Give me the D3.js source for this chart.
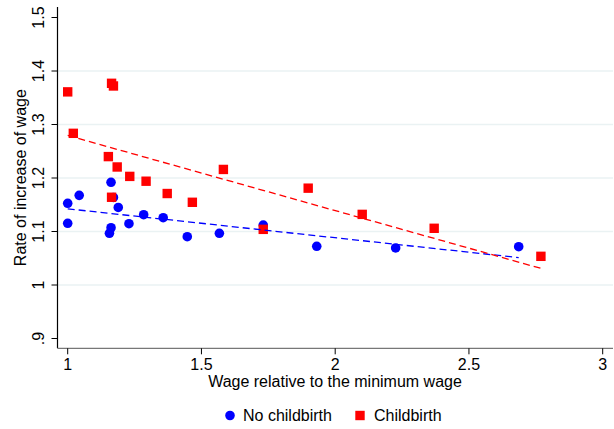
<!DOCTYPE html>
<html>
<head>
<meta charset="utf-8">
<script src="https://cdn.jsdelivr.net/npm/d3@7"></script>
<style>
  html, body { margin: 0; padding: 0; background: #fff; }
  svg { display: block; font-family: "Liberation Sans", Arial, sans-serif; }
</style>
</head>
<body>
<svg id="chart" width="614" height="429"></svg>
<script>
// Wage relative to minimum wage (x) vs. rate of increase of wage (y)
const noBirthX = [1.000, 1.000, 1.043, 1.162, 1.171, 1.189, 1.162, 1.156, 1.229, 1.284,
                  1.357, 1.447, 1.567, 1.731, 1.931, 2.226, 2.686];
const noBirthY = [1.1527, 1.1153, 1.1676, 1.192, 1.1636, 1.145, 1.107, 1.0966, 1.1146, 1.1314,
                  1.1258, 1.0903, 1.0966, 1.112, 1.0723, 1.0692, 1.0716];

const birthX = [1.000, 1.021, 1.164, 1.171, 1.152, 1.185, 1.232, 1.293, 1.372, 1.466,
                1.582, 1.164, 1.731, 1.899, 2.101, 2.370, 2.769];
const birthY = [1.361, 1.2835, 1.377, 1.372, 1.240, 1.2206, 1.203, 1.194, 1.171, 1.1546,
                1.216, 1.164, 1.104, 1.181, 1.132, 1.106, 1.0536];

const xTicks = [1, 1.5, 2, 2.5, 3];
const yTicks = [0.9, 1, 1.1, 1.2, 1.3, 1.4, 1.5];
const yTickLabels = [".9", "1", "1.1", "1.2", "1.3", "1.4", "1.5"];
const gridValues = [1, 1.1, 1.2, 1.3, 1.4];
const seriesNames = ["No childbirth", "Childbirth"];
const seriesColors = ["#0000ff", "#ff0000"];

const FS = 16;
const svg = d3.select("#chart");

const x = d3.scaleLinear().domain([1, 3]).range([67.7, 602.7]);
const y = d3.scaleLinear().domain([1, 1.5]).range([285, 17.5]);

const plotLeft = 57.5, plotRight = 613, plotTop = 7, plotBottom = 348.3;

// light horizontal gridlines
svg.append("g").selectAll("line").data(gridValues).join("line")
  .attr("x1", plotLeft).attr("x2", plotRight)
  .attr("y1", d => y(d)).attr("y2", d => y(d))
  .attr("stroke", "#eaf2f3").attr("stroke-width", 1.4);

// least-squares fit over the observed x range
function linFit(xs, ys) {
  const mx = d3.mean(xs), my = d3.mean(ys);
  let sxy = 0, sxx = 0;
  xs.forEach((v, i) => { sxy += (v - mx) * (ys[i] - my); sxx += (v - mx) * (v - mx); });
  const b = sxy / sxx, a = my - b * mx;
  const [lo, hi] = d3.extent(xs);
  return [[lo, a + b * lo], [hi, a + b * hi]];
}

const line = d3.line().x(d => x(d[0])).y(d => y(d[1]));

// markers
const blue = noBirthX.map((v, i) => [v, noBirthY[i]]);
const red = birthX.map((v, i) => [v, birthY[i]]);

svg.append("g").selectAll("circle").data(blue).join("circle")
  .attr("cx", d => x(d[0])).attr("cy", d => y(d[1])).attr("r", 4.8)
  .attr("fill", seriesColors[0]);

const sq = 9.4;
svg.append("g").selectAll("rect").data(red).join("rect")
  .attr("x", d => x(d[0]) - sq / 2).attr("y", d => y(d[1]) - sq / 2)
  .attr("width", sq).attr("height", sq)
  .attr("fill", seriesColors[1]);

// fitted lines
svg.append("path").datum(linFit(noBirthX, noBirthY)).attr("d", line)
  .attr("fill", "none").attr("stroke", seriesColors[0]).attr("stroke-width", 1.3)
  .attr("stroke-dasharray", "7,4");
svg.append("path").datum(linFit(birthX, birthY)).attr("d", line)
  .attr("fill", "none").attr("stroke", seriesColors[1]).attr("stroke-width", 1.3)
  .attr("stroke-dasharray", "7,4");

// y axis
const yAxis = svg.append("g").attr("transform", `translate(${plotLeft},0)`);
yAxis.append("line").attr("x1", 0).attr("x2", 0).attr("y1", plotTop).attr("y2", plotBottom)
  .attr("stroke", "#000").attr("stroke-width", 1.2);
yAxis.selectAll("line.tick").data(yTicks).join("line").attr("class", "tick")
  .attr("x1", -6).attr("x2", 0).attr("y1", d => y(d)).attr("y2", d => y(d))
  .attr("stroke", "#000").attr("stroke-width", 1);
yAxis.selectAll("text").data(yTicks).join("text")
  .attr("transform", d => `translate(-14,${y(d)}) rotate(-90)`)
  .attr("text-anchor", "middle").attr("font-size", FS).attr("fill", "#000")
  .text((d, i) => yTickLabels[i]);

// x axis
const xAxis = svg.append("g").attr("transform", `translate(0,${plotBottom})`);
xAxis.append("line").attr("x1", plotLeft).attr("x2", plotRight).attr("y1", 0).attr("y2", 0)
  .attr("stroke", "#777").attr("stroke-width", 1.2);
xAxis.selectAll("line.tick").data(xTicks).join("line").attr("class", "tick")
  .attr("x1", d => x(d)).attr("x2", d => x(d)).attr("y1", 0).attr("y2", 6)
  .attr("stroke", "#000").attr("stroke-width", 1);
xAxis.selectAll("text").data(xTicks).join("text")
  .attr("x", d => x(d)).attr("y", 21.8)
  .attr("text-anchor", "middle").attr("font-size", FS).attr("fill", "#000")
  .text(d => d3.format("~g")(d));

// axis titles
svg.append("text").attr("x", 335).attr("y", 387).attr("text-anchor", "middle")
  .attr("font-size", FS).attr("fill", "#000").text("Wage relative to the minimum wage");
svg.append("text").attr("transform", `translate(26,${(plotTop + plotBottom) / 2}) rotate(-90)`)
  .attr("text-anchor", "middle").attr("font-size", FS).attr("fill", "#000")
  .text("Rate of increase of wage");

// legend
const leg = svg.append("g").attr("transform", "translate(0,415.5)");
leg.append("circle").attr("cx", 230).attr("cy", 0).attr("r", 4.8).attr("fill", seriesColors[0]);
leg.append("text").attr("x", 243).attr("y", 5).attr("font-size", FS).text(seriesNames[0]);
leg.append("rect").attr("x", 360 - sq / 2).attr("y", -sq / 2).attr("width", sq).attr("height", sq)
  .attr("fill", seriesColors[1]);
leg.append("text").attr("x", 374).attr("y", 5).attr("font-size", FS).text(seriesNames[1]);
</script>
</body>
</html>
